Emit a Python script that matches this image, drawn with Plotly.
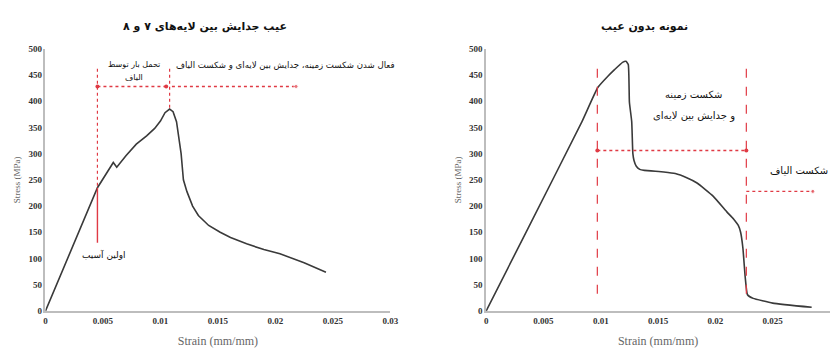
import plotly.graph_objects as go

# Stress-strain curve: specimen with delamination between plies 7 and 8
strain_def = [0.0, 0.00452, 0.0059, 0.0062, 0.0070, 0.0079, 0.0088, 0.0095, 0.0100, 0.0104,
              0.0108, 0.0111, 0.0114, 0.0118, 0.0120, 0.0123, 0.0128, 0.0133, 0.0142,
              0.0152, 0.0161, 0.0175, 0.0190, 0.0204, 0.0225, 0.0244]
stress_def = [0, 235, 283, 274, 296, 318, 334, 348, 362, 378,
              385, 380, 361, 300, 250, 228, 200, 182, 163,
              150, 140, 128, 117, 109, 92, 74]

# Stress-strain curve: defect-free specimen
strain_ok = [0.0, 0.00371, 0.00836, 0.00974, 0.0106, 0.0112, 0.0119, 0.0122, 0.0124, 0.0125,
             0.0127, 0.0128, 0.0129, 0.0131, 0.0134, 0.0138, 0.0155, 0.0165, 0.0175,
             0.0184, 0.0198, 0.0210, 0.0216, 0.0220, 0.0222, 0.0224, 0.0226, 0.0228,
             0.0233, 0.0250, 0.0284]
stress_ok = [0, 160, 361, 426, 447, 460, 474, 476, 470, 398,
             361, 300, 287, 276, 270, 268, 265, 262, 254,
             244, 219, 189, 175, 163, 150, 120, 65, 31,
             24, 15, 7]

# Region markers (strain positions) and arrow levels (stress)
def_first_damage = 0.00452
def_peak_line = 0.0108
def_arrow_stress = 428
def_arrow_end = 0.0218
def_damage_bottom = 130
marker_top = 462

ok_line_a = 0.0097
ok_line_b = 0.0227
ok_line_bottom = 18
ok_arrow1_stress = 306
ok_arrow2_stress = 228
ok_arrow2_end = 0.0285

x_ticks = [0, 0.005, 0.01, 0.015, 0.02, 0.025, 0.03]
y_ticks = list(range(0, 501, 50))

RED = "#e03a44"
CURVE = "#3a3a3a"
AXIS = "#bdbdbd"
FA = "DejaVu Sans"

fig = go.Figure()

# ---- left panel ----
fig.add_trace(go.Scatter(x=strain_def, y=stress_def, mode="lines",
                         line=dict(color=CURVE, width=1.6), xaxis="x", yaxis="y"))
fig.add_trace(go.Scatter(x=[def_first_damage, def_first_damage], y=[marker_top, stress_def[1]],
                         mode="lines", line=dict(color=RED, width=1.2, dash="dot"),
                         xaxis="x", yaxis="y"))
fig.add_trace(go.Scatter(x=[def_first_damage, def_first_damage], y=[stress_def[1], def_damage_bottom],
                         mode="lines", line=dict(color=RED, width=1.4), xaxis="x", yaxis="y"))
fig.add_trace(go.Scatter(x=[def_peak_line, def_peak_line], y=[marker_top, stress_def[10]],
                         mode="lines", line=dict(color=RED, width=1.2, dash="dot"),
                         xaxis="x", yaxis="y"))
fig.add_trace(go.Scatter(x=[def_first_damage, def_peak_line - 0.0003], y=[def_arrow_stress] * 2,
                         mode="lines+markers", line=dict(color=RED, width=1.4, dash="dot"),
                         marker=dict(color=RED, size=4), xaxis="x", yaxis="y"))
fig.add_trace(go.Scatter(x=[def_peak_line + 0.0002, def_arrow_end], y=[def_arrow_stress] * 2,
                         mode="lines+markers", line=dict(color=RED, width=1.4, dash="dot"),
                         marker=dict(color=RED, size=[0, 4]), xaxis="x", yaxis="y"))

# ---- right panel ----
fig.add_trace(go.Scatter(x=strain_ok, y=stress_ok, mode="lines",
                         line=dict(color=CURVE, width=1.6, shape="spline", smoothing=0.4),
                         xaxis="x2", yaxis="y2"))
for xv in (ok_line_a, ok_line_b):
    fig.add_trace(go.Scatter(x=[xv, xv], y=[marker_top, ok_line_bottom], mode="lines",
                             line=dict(color=RED, width=1.2, dash="dash"),
                             xaxis="x2", yaxis="y2"))
fig.add_trace(go.Scatter(x=[ok_line_a, ok_line_b], y=[ok_arrow1_stress] * 2,
                         mode="lines+markers", line=dict(color=RED, width=1.4, dash="dot"),
                         marker=dict(color=RED, size=4), xaxis="x2", yaxis="y2"))
fig.add_trace(go.Scatter(x=[ok_line_b, ok_arrow2_end], y=[ok_arrow2_stress] * 2,
                         mode="lines+markers", line=dict(color=RED, width=1.4, dash="dot"),
                         marker=dict(color=RED, size=[0, 4]), xaxis="x2", yaxis="y2"))

tickfont = dict(family="Liberation Serif", size=9, color="#333", weight="bold")
titlefont = dict(family="Liberation Serif", size=12, color="#666")


def xaxis(domain, anchor):
    return dict(domain=domain, anchor=anchor, range=[0, 0.03], tickvals=x_ticks,
                showgrid=False, zeroline=False, showline=True, linecolor=AXIS, linewidth=1.5,
                ticks="", tickfont=tickfont,
                title=dict(text="Strain (mm/mm)", font=titlefont, standoff=12))


def yaxis(domain, anchor):
    return dict(domain=domain, anchor=anchor, range=[0, 500], tickvals=y_ticks,
                showgrid=False, zeroline=False, showline=True, linecolor=AXIS, linewidth=1.5,
                ticks="", tickfont=tickfont,
                title=dict(text="Stress (MPa)", font=dict(family="Liberation Serif", size=9,
                                                            color="#666"), standoff=6))


ydom = [34 / 349, 304 / 349]
fig.update_layout(
    width=838, height=349, margin=dict(l=0, r=0, t=0, b=0),
    paper_bgcolor="white", plot_bgcolor="white", showlegend=False,
    xaxis=xaxis([44 / 838, 393 / 838], "y"),
    yaxis=yaxis(ydom, "x"),
    xaxis2=xaxis([490 / 838, 838 / 838], "y2"),
    yaxis2=yaxis(ydom, "x2"),
)

ann = [
    # titles
    dict(text="<b>عیب جدایش بین لایه‌های ۷ و ۸</b>", x=205 / 838, y=1 - 22 / 349,
         xref="paper", yref="paper", font=dict(family=FA, size=11, color="#111")),
    dict(text="<b>نمونه بدون عیب</b>", x=650 / 838, y=1 - 22 / 349,
         xref="paper", yref="paper", font=dict(family=FA, size=11, color="#111")),
    # left panel labels
    dict(text="تحمل بار توسط", x=(def_first_damage + def_peak_line) / 2, y=470,
         xref="x", yref="y", font=dict(family=FA, size=8, color="#111")),
    dict(text="الیاف", x=(def_first_damage + def_peak_line) / 2, y=445,
         xref="x", yref="y", font=dict(family=FA, size=8, color="#111")),
    dict(text="فعال شدن شکست زمینه، جدایش بین لایه‌ای و شکست الیاف", x=0.0209, y=468,
         xref="x", yref="y", font=dict(family=FA, size=8.6, color="#111")),
    dict(text="اولین آسیب", x=0.0051, y=107, xref="x", yref="y",
         font=dict(family=FA, size=9, color="#111")),
    # right panel labels
    dict(text="شکست زمینه", x=0.0181, y=412,
         xref="x2", yref="y2", font=dict(family=FA, size=10, color="#111")),
    dict(text="و جدایش بین لایه‌ای", x=0.0181, y=372,
         xref="x2", yref="y2", font=dict(family=FA, size=10, color="#111")),
    dict(text="شکست الیاف", x=0.0273, y=267, xref="x2", yref="y2",
         font=dict(family=FA, size=10, color="#111")),
]
for a in ann:
    a["showarrow"] = False
    a["xanchor"] = "center"
    a["yanchor"] = "middle"
fig.update_layout(annotations=ann)

fig.write_html("out.html")
